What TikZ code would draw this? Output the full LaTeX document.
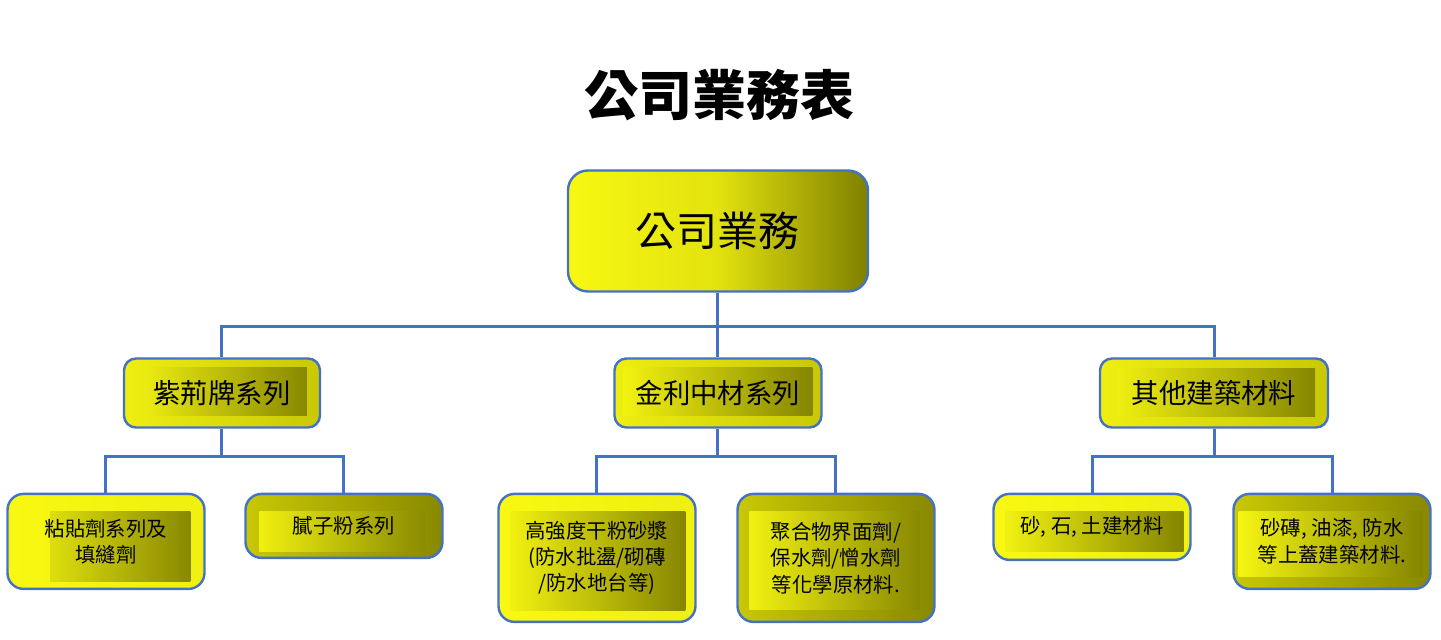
\documentclass[tikz,border=0pt]{standalone}
\usepackage{fontspec}
\newfontfamily\cjk{Noto Sans CJK TC}
\usetikzlibrary{positioning}

\definecolor{lemon}{RGB}{248,248,18}
\definecolor{mustard}{RGB}{200,200,6}
\definecolor{olivedark}{RGB}{128,128,0}
\definecolor{linkblue}{RGB}{68,114,196}

\tikzset{
	unit/.style={
		rectangle,
		draw=linkblue, line width=1.2pt,
		inner sep=0pt,
		align=center,
		text centered,
	},
	band/.style n args={4}{
		path picture={
			\shade[sharp corners, left color=lemon, right color=olivedark]
			([shift={(#1,#2)}]path picture bounding box.south west) rectangle
			([shift={(-#3,-#4)}]path picture bounding box.north east);
		}
	},
	head/.style={unit, rounded corners=10pt, minimum width=150pt, minimum height=60.5pt,
		left color=lemon, right color=olivedark, middle color=lemon!82!olivedark,
		font=\cjk\fontsize{20.5pt}{24pt}\selectfont},
	series/.style={unit, rounded corners=6pt, minimum height=34.5pt,
		left color=lemon!92!olivedark, right color=mustard,
		font=\cjk\fontsize{13.7pt}{16pt}\selectfont},
	item/.style={unit, rounded corners=8pt, minimum width=98.5pt,
		font=\cjk\fontsize{10.2pt}{13.2pt}\selectfont},
	light/.style={left color=lemon, right color=lemon!93!olivedark},
	shade dark/.style={left color=mustard, right color=olivedark!88!mustard},
	link/.style={draw=linkblue, line width=1.5pt}
}

\begin{document}
\begin{tikzpicture}
	\useasboundingbox (-360pt,47.5pt) rectangle (360.5pt,-272.5pt);

	\node[font=\cjk\bfseries\fontsize{27pt}{32pt}\selectfont](T){公司業務表};
	\node[head, below of=T, node distance=68pt, xshift=-1pt](TOP){公司業務};

	% series
	\node[series, minimum width=103.5pt, band={4.5pt}{6pt}{4.5pt}{4.5pt}, below of=TOP, node distance=81pt](B){金利中材系列};
	\node[series, minimum width=98pt, band={10pt}{6pt}{6.5pt}{4.5pt}, left of=B, node distance=248pt](A){紫荊牌系列};
	\node[series, minimum width=114pt, band={9pt}{5.5pt}{6.5pt}{5pt}, right of=B, node distance=248pt](C){其他建築材料};

	\draw[link] (TOP.south) -- ++(0,-17pt) -| (A.north);
	\draw[link] (TOP.south) -- ++(0,-17pt) -| (C.north);
	\draw[link] (TOP.south) -- (B.north);

	% items
	\node[item, light, minimum height=47.5pt, band={21.5pt}{3.5pt}{7pt}{9pt}, below=32pt of A, xshift=-58pt](A1){粘貼劑系列及\\填縫劑};
	\node[item, shade dark, minimum height=32pt, band={7pt}{3pt}{9pt}{9pt}, below=32pt of A, xshift=61pt](A2){膩子粉系列};

	\node[item, light, minimum height=64pt, band={6pt}{5.5pt}{5pt}{9pt}, below=32pt of B, xshift=-60.5pt](B1){高強度干粉砂漿\\(防水批盪/砌磚\\/防水地台等)};
	\node[item, shade dark, minimum height=64pt, band={6pt}{6pt}{7.5pt}{9pt}, below=32pt of B, xshift=59pt](B2){聚合物界面劑/\\保水劑/憎水劑\\等化學原材料.};

	\node[item, light, minimum height=33pt, band={6pt}{4pt}{3.5pt}{9pt}, below=32pt of C, xshift=-61pt](C1){砂, 石, 土建材料};
	\node[item, shade dark, minimum height=47.5pt, band={2.5pt}{6pt}{4pt}{9pt}, below=32pt of C, xshift=59pt](C2){砂磚, 油漆, 防水\\等上蓋建築材料.};

	\draw[link] (A.south) -- ++(0,-14pt) -| (A1.north);
	\draw[link] (A.south) -- ++(0,-14pt) -| (A2.north);
	\draw[link] (B.south) -- ++(0,-14pt) -| (B1.north);
	\draw[link] (B.south) -- ++(0,-14pt) -| (B2.north);
	\draw[link] (C.south) -- ++(0,-14pt) -| (C1.north);
	\draw[link] (C.south) -- ++(0,-14pt) -| (C2.north);
\end{tikzpicture}
\end{document}
